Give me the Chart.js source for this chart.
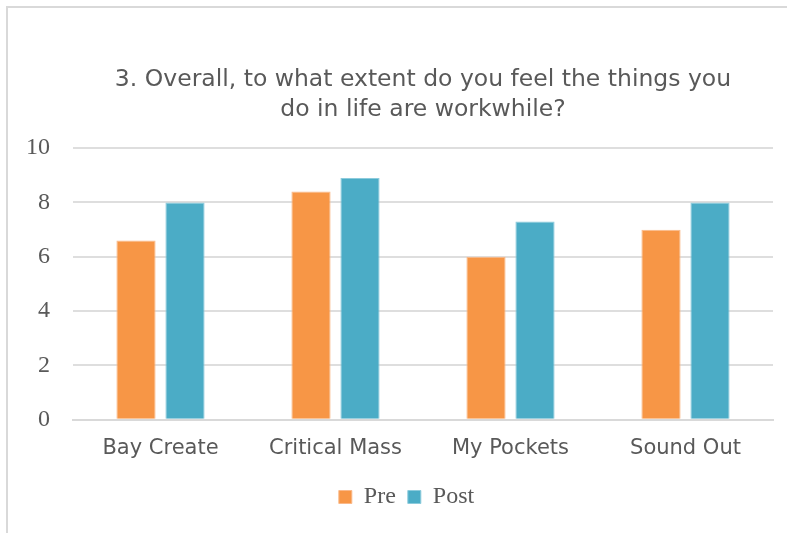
<!DOCTYPE html>
<html>
<head>
<meta charset="utf-8">
<script src="https://cdn.jsdelivr.net/npm/chart.js@4"></script>
<style>
  html, body { margin: 0; padding: 0; background: #fff; }
  #wrap { position: relative; width: 787px; height: 533px; overflow: hidden; }
  #frame { position: absolute; left: 6px; top: 6px; width: 800px; height: 600px;
           border-left: 2px solid #d9d9d9; border-top: 2px solid #d9d9d9; }
  canvas { position: absolute; left: 0; top: 0; }
</style>
</head>
<body>
<div id="wrap">
  <div id="frame"></div>
  <canvas id="c" width="787" height="533"></canvas>
</div>
<script>
const categories = ["Bay Create", "Critical Mass", "My Pockets", "Sound Out"];
const preValues = [6.6, 8.4, 6.0, 7.0];
const postValues = [8.0, 8.9, 7.3, 8.0];
const seriesNames = ["Pre", "Post"];
const titleLines = ["3. Overall, to what extent do you feel the things you", "do in life are workwhile?"];

const textColor = "#595959";
const sansFont = "'DejaVu Sans', sans-serif";
const serifFont = "'Liberation Serif', serif";

const legendShift = {
  id: "legendShift",
  afterLayout(chart) {
    const lg = chart.legend;
    if (lg) { lg.left += 20; lg.right += 20; }
  }
};

new Chart(document.getElementById("c"), {
  type: "bar",
  data: {
    labels: categories,
    datasets: [
      { label: seriesNames[0], data: preValues, backgroundColor: "#F79646", borderColor: "#FAB98A", borderWidth: 1 },
      { label: seriesNames[1], data: postValues, backgroundColor: "#4BACC6", borderColor: "#8CCBDC", borderWidth: 1 }
    ]
  },
  plugins: [legendShift],
  options: {
    responsive: false,
    animation: false,
    devicePixelRatio: 1,
    layout: { padding: { left: 0, right: 14, top: 65, bottom: 14 } },
    datasets: { bar: { categoryPercentage: 0.56, barPercentage: 0.8 } },
    plugins: {
      tooltip: { enabled: false },
      title: {
        display: true,
        text: titleLines,
        fullSize: false,
        color: textColor,
        font: { family: sansFont, size: 23.5, weight: "normal", lineHeight: 1.28 },
        padding: { top: 0, bottom: 23 }
      },
      legend: {
        position: "bottom",
        labels: {
          color: textColor,
          boxWidth: 13,
          boxHeight: 13,
          padding: 12,
          font: { family: serifFont, size: 24 }
        }
      }
    },
    scales: {
      x: {
        grid: { display: false },
        border: { display: true, color: "#d9d9d9", width: 2 },
        afterFit: (s) => { s.height += 4; },
        ticks: { color: textColor, padding: 8, font: { family: sansFont, size: 21 } }
      },
      y: {
        min: 0, max: 10,
        afterFit: (s) => { s.width = 73; },
        grid: { color: "#dedede", lineWidth: 2, drawTicks: false },
        border: { display: false },
        ticks: { stepSize: 2, color: textColor, padding: 23, font: { family: serifFont, size: 24 } }
      }
    }
  }
});
</script>
</body>
</html>
